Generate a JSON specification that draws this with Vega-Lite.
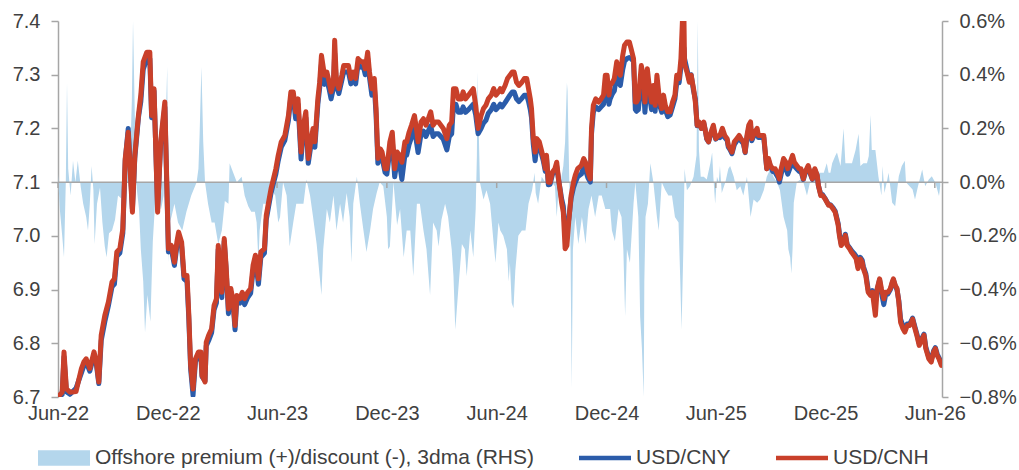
{
"$schema": "https://vega.github.io/schema/vega-lite/v6.json",
"width": 884, "height": 376,
"autosize": {"type": "none"},
"padding": {"left": 58, "top": 21, "right": 77, "bottom": 73},
"background": "white",
"config": {"view": {"stroke": null}, "font": "Liberation Sans",
  "axis": {"labelFont": "Liberation Sans", "labelFontSize": 20, "labelColor": "#404040", "grid": false, "title": null},
  "axisX": {"domain": false, "ticks": false, "labelPadding": 6, "labelFlush": false, "labelOverlap": false,
    "labelExpr": "utcFormat(datum.value, '%b-%y')"}},
"datasets": {
"fx": [
{"d":"2022-06-01","cnh":6.700,"cny":6.697},{"d":"2022-06-08","cnh":6.709,"cny":6.705},{"d":"2022-06-11","cnh":6.784,"cny":6.775},{"d":"2022-06-15","cnh":6.715,"cny":6.710},{"d":"2022-06-21","cnh":6.709,"cny":6.705},
{"d":"2022-07-01","cnh":6.710,"cny":6.716},{"d":"2022-07-10","cnh":6.753,"cny":6.745},{"d":"2022-07-14","cnh":6.765,"cny":6.758},{"d":"2022-07-18","cnh":6.771,"cny":6.765},{"d":"2022-07-24","cnh":6.753,"cny":6.748},{"d":"2022-07-31","cnh":6.784,"cny":6.778},
{"d":"2022-08-04","cnh":6.765,"cny":6.760},{"d":"2022-08-08","cnh":6.728,"cny":6.725},{"d":"2022-08-12","cnh":6.815,"cny":6.805},{"d":"2022-08-18","cnh":6.852,"cny":6.840},{"d":"2022-08-24","cnh":6.877,"cny":6.870},{"d":"2022-08-30","cnh":6.914,"cny":6.905},
{"d":"2022-09-03","cnh":6.920,"cny":6.910},{"d":"2022-09-07","cnh":6.970,"cny":6.962},{"d":"2022-09-12","cnh":6.976,"cny":6.968},{"d":"2022-09-17","cnh":7.013,"cny":7.005},{"d":"2022-09-21","cnh":7.144,"cny":7.140},{"d":"2022-09-26","cnh":7.193,"cny":7.200},
{"d":"2022-10-03","cnh":7.044,"cny":7.050},{"d":"2022-10-07","cnh":7.150,"cny":7.145},{"d":"2022-10-13","cnh":7.224,"cny":7.220},{"d":"2022-10-17","cnh":7.262,"cny":7.250},{"d":"2022-10-21","cnh":7.324,"cny":7.310},{"d":"2022-10-27","cnh":7.342,"cny":7.330},
{"d":"2022-11-01","cnh":7.342,"cny":7.330},{"d":"2022-11-04","cnh":7.224,"cny":7.220},{"d":"2022-11-08","cnh":7.274,"cny":7.270},{"d":"2022-11-14","cnh":7.044,"cny":7.050},{"d":"2022-11-19","cnh":7.175,"cny":7.170},{"d":"2022-11-26","cnh":7.249,"cny":7.240},
{"d":"2022-12-02","cnh":6.976,"cny":6.970},{"d":"2022-12-07","cnh":6.982,"cny":6.975},{"d":"2022-12-12","cnh":6.951,"cny":6.945},{"d":"2022-12-16","cnh":6.988,"cny":6.980},{"d":"2022-12-19","cnh":7.007,"cny":7.000},{"d":"2022-12-24","cnh":6.988,"cny":6.980},{"d":"2022-12-28","cnh":6.926,"cny":6.920},
{"d":"2023-01-02","cnh":6.926,"cny":6.915},{"d":"2023-01-05","cnh":6.852,"cny":6.845},{"d":"2023-01-08","cnh":6.759,"cny":6.752},{"d":"2023-01-12","cnh":6.715,"cny":6.703},{"d":"2023-01-16","cnh":6.771,"cny":6.765},{"d":"2023-01-21","cnh":6.784,"cny":6.778},{"d":"2023-01-25","cnh":6.784,"cny":6.778},{"d":"2023-01-27","cnh":6.740,"cny":6.738},
{"d":"2023-02-01","cnh":6.728,"cny":6.730},{"d":"2023-02-03","cnh":6.802,"cny":6.795},{"d":"2023-02-07","cnh":6.815,"cny":6.805},{"d":"2023-02-12","cnh":6.827,"cny":6.820},{"d":"2023-02-16","cnh":6.870,"cny":6.862},{"d":"2023-02-20","cnh":6.883,"cny":6.875},{"d":"2023-02-23","cnh":6.982,"cny":6.975},{"d":"2023-02-26","cnh":6.939,"cny":6.930},
{"d":"2023-03-01","cnh":6.895,"cny":6.885},{"d":"2023-03-05","cnh":6.995,"cny":6.990},{"d":"2023-03-08","cnh":6.945,"cny":6.940},{"d":"2023-03-12","cnh":6.864,"cny":6.855},{"d":"2023-03-16","cnh":6.902,"cny":6.895},{"d":"2023-03-20","cnh":6.877,"cny":6.870},{"d":"2023-03-23","cnh":6.833,"cny":6.825},{"d":"2023-03-26","cnh":6.889,"cny":6.880},{"d":"2023-03-31","cnh":6.883,"cny":6.875},
{"d":"2023-04-04","cnh":6.895,"cny":6.885},{"d":"2023-04-08","cnh":6.883,"cny":6.872},{"d":"2023-04-13","cnh":6.895,"cny":6.885},{"d":"2023-04-18","cnh":6.902,"cny":6.893},{"d":"2023-04-22","cnh":6.945,"cny":6.935},{"d":"2023-04-26","cnh":6.964,"cny":6.955},
{"d":"2023-05-01","cnh":6.920,"cny":6.910},{"d":"2023-05-05","cnh":6.970,"cny":6.960},{"d":"2023-05-11","cnh":6.976,"cny":6.968},{"d":"2023-05-14","cnh":7.038,"cny":7.030},{"d":"2023-05-18","cnh":7.063,"cny":7.055},{"d":"2023-05-22","cnh":7.088,"cny":7.080},{"d":"2023-05-26","cnh":7.106,"cny":7.098},{"d":"2023-05-30","cnh":7.125,"cny":7.115},
{"d":"2023-06-03","cnh":7.150,"cny":7.140},{"d":"2023-06-08","cnh":7.175,"cny":7.165},{"d":"2023-06-14","cnh":7.187,"cny":7.178},{"d":"2023-06-20","cnh":7.224,"cny":7.215},{"d":"2023-06-24","cnh":7.268,"cny":7.260},{"d":"2023-06-28","cnh":7.268,"cny":7.258},
{"d":"2023-07-02","cnh":7.231,"cny":7.218},{"d":"2023-07-06","cnh":7.255,"cny":7.245},{"d":"2023-07-11","cnh":7.156,"cny":7.143},{"d":"2023-07-15","cnh":7.206,"cny":7.195},{"d":"2023-07-19","cnh":7.231,"cny":7.220},{"d":"2023-07-23","cnh":7.144,"cny":7.135},{"d":"2023-07-27","cnh":7.175,"cny":7.165},{"d":"2023-07-31","cnh":7.200,"cny":7.190},
{"d":"2023-08-03","cnh":7.175,"cny":7.165},{"d":"2023-08-08","cnh":7.255,"cny":7.245},{"d":"2023-08-11","cnh":7.286,"cny":7.275},{"d":"2023-08-14","cnh":7.336,"cny":7.320},{"d":"2023-08-19","cnh":7.299,"cny":7.282},{"d":"2023-08-23","cnh":7.305,"cny":7.290},{"d":"2023-08-27","cnh":7.286,"cny":7.272},{"d":"2023-08-30","cnh":7.268,"cny":7.255},
{"d":"2023-09-03","cnh":7.286,"cny":7.275},{"d":"2023-09-05","cnh":7.364,"cny":7.340},{"d":"2023-09-08","cnh":7.286,"cny":7.280},{"d":"2023-09-12","cnh":7.274,"cny":7.265},{"d":"2023-09-17","cnh":7.299,"cny":7.290},{"d":"2023-09-20","cnh":7.317,"cny":7.305},{"d":"2023-09-24","cnh":7.317,"cny":7.305},{"d":"2023-09-28","cnh":7.317,"cny":7.305},
{"d":"2023-10-02","cnh":7.293,"cny":7.283},{"d":"2023-10-06","cnh":7.305,"cny":7.295},{"d":"2023-10-10","cnh":7.293,"cny":7.283},{"d":"2023-10-14","cnh":7.330,"cny":7.320},{"d":"2023-10-19","cnh":7.324,"cny":7.314},{"d":"2023-10-23","cnh":7.324,"cny":7.314},{"d":"2023-10-26","cnh":7.311,"cny":7.300},{"d":"2023-10-30","cnh":7.342,"cny":7.330},
{"d":"2023-11-02","cnh":7.305,"cny":7.295},{"d":"2023-11-06","cnh":7.274,"cny":7.262},{"d":"2023-11-10","cnh":7.293,"cny":7.280},{"d":"2023-11-13","cnh":7.237,"cny":7.225},{"d":"2023-11-16","cnh":7.144,"cny":7.135},{"d":"2023-11-20","cnh":7.162,"cny":7.152},{"d":"2023-11-23","cnh":7.156,"cny":7.145},{"d":"2023-11-28","cnh":7.125,"cny":7.118},
{"d":"2023-12-01","cnh":7.125,"cny":7.115},{"d":"2023-12-06","cnh":7.175,"cny":7.160},{"d":"2023-12-10","cnh":7.193,"cny":7.178},{"d":"2023-12-14","cnh":7.125,"cny":7.110},{"d":"2023-12-18","cnh":7.156,"cny":7.140},{"d":"2023-12-22","cnh":7.150,"cny":7.135},{"d":"2023-12-26","cnh":7.137,"cny":7.105},{"d":"2023-12-31","cnh":7.175,"cny":7.150},
{"d":"2024-01-03","cnh":7.175,"cny":7.150},{"d":"2024-01-07","cnh":7.193,"cny":7.170},{"d":"2024-01-11","cnh":7.206,"cny":7.183},{"d":"2024-01-16","cnh":7.224,"cny":7.200},{"d":"2024-01-20","cnh":7.193,"cny":7.170},{"d":"2024-01-22","cnh":7.175,"cny":7.155},{"d":"2024-01-27","cnh":7.212,"cny":7.190},{"d":"2024-01-31","cnh":7.218,"cny":7.195},
{"d":"2024-02-04","cnh":7.206,"cny":7.185},{"d":"2024-02-08","cnh":7.218,"cny":7.195},{"d":"2024-02-12","cnh":7.231,"cny":7.205},{"d":"2024-02-16","cnh":7.206,"cny":7.185},{"d":"2024-02-20","cnh":7.212,"cny":7.190},{"d":"2024-02-25","cnh":7.212,"cny":7.190},{"d":"2024-02-29","cnh":7.206,"cny":7.185},
{"d":"2024-03-04","cnh":7.200,"cny":7.180},{"d":"2024-03-10","cnh":7.181,"cny":7.160},{"d":"2024-03-14","cnh":7.206,"cny":7.185},{"d":"2024-03-18","cnh":7.212,"cny":7.190},{"d":"2024-03-21","cnh":7.274,"cny":7.245},{"d":"2024-03-25","cnh":7.274,"cny":7.245},{"d":"2024-03-29","cnh":7.255,"cny":7.230},
{"d":"2024-04-03","cnh":7.255,"cny":7.230},{"d":"2024-04-06","cnh":7.268,"cny":7.240},{"d":"2024-04-10","cnh":7.255,"cny":7.230},{"d":"2024-04-15","cnh":7.262,"cny":7.235},{"d":"2024-04-19","cnh":7.268,"cny":7.240},{"d":"2024-04-23","cnh":7.274,"cny":7.245},{"d":"2024-04-27","cnh":7.243,"cny":7.225},
{"d":"2024-05-01","cnh":7.200,"cny":7.190},{"d":"2024-05-06","cnh":7.224,"cny":7.200},{"d":"2024-05-10","cnh":7.237,"cny":7.210},{"d":"2024-05-14","cnh":7.243,"cny":7.215},{"d":"2024-05-18","cnh":7.255,"cny":7.228},{"d":"2024-05-23","cnh":7.262,"cny":7.235},{"d":"2024-05-27","cnh":7.274,"cny":7.245},{"d":"2024-05-31","cnh":7.262,"cny":7.235},
{"d":"2024-06-04","cnh":7.268,"cny":7.240},{"d":"2024-06-07","cnh":7.274,"cny":7.245},{"d":"2024-06-10","cnh":7.268,"cny":7.240},{"d":"2024-06-15","cnh":7.280,"cny":7.248},{"d":"2024-06-19","cnh":7.293,"cny":7.255},{"d":"2024-06-23","cnh":7.299,"cny":7.262},{"d":"2024-06-27","cnh":7.305,"cny":7.268},{"d":"2024-06-30","cnh":7.305,"cny":7.268},
{"d":"2024-07-04","cnh":7.286,"cny":7.255},{"d":"2024-07-08","cnh":7.280,"cny":7.250},{"d":"2024-07-13","cnh":7.286,"cny":7.256},{"d":"2024-07-17","cnh":7.293,"cny":7.262},{"d":"2024-07-21","cnh":7.293,"cny":7.262},{"d":"2024-07-24","cnh":7.274,"cny":7.250},{"d":"2024-07-27","cnh":7.255,"cny":7.235},{"d":"2024-07-29","cnh":7.237,"cny":7.220},
{"d":"2024-08-01","cnh":7.181,"cny":7.170},{"d":"2024-08-04","cnh":7.156,"cny":7.140},{"d":"2024-08-07","cnh":7.181,"cny":7.168},{"d":"2024-08-11","cnh":7.175,"cny":7.165},{"d":"2024-08-14","cnh":7.162,"cny":7.155},{"d":"2024-08-18","cnh":7.144,"cny":7.138},{"d":"2024-08-21","cnh":7.125,"cny":7.120},{"d":"2024-08-23","cnh":7.150,"cny":7.145},{"d":"2024-08-26","cnh":7.100,"cny":7.095},{"d":"2024-08-29","cnh":7.100,"cny":7.096},
{"d":"2024-09-02","cnh":7.119,"cny":7.115},{"d":"2024-09-06","cnh":7.125,"cny":7.120},{"d":"2024-09-09","cnh":7.137,"cny":7.130},{"d":"2024-09-12","cnh":7.106,"cny":7.105},{"d":"2024-09-15","cnh":7.082,"cny":7.085},{"d":"2024-09-17","cnh":7.063,"cny":7.070},{"d":"2024-09-20","cnh":7.044,"cny":7.055},{"d":"2024-09-23","cnh":6.976,"cny":7.010},{"d":"2024-09-26","cnh":6.982,"cny":7.015},{"d":"2024-09-29","cnh":7.026,"cny":7.030},
{"d":"2024-10-03","cnh":7.075,"cny":7.070},{"d":"2024-10-07","cnh":7.100,"cny":7.090},{"d":"2024-10-10","cnh":7.113,"cny":7.100},{"d":"2024-10-14","cnh":7.125,"cny":7.110},{"d":"2024-10-20","cnh":7.131,"cny":7.115},{"d":"2024-10-24","cnh":7.144,"cny":7.128},{"d":"2024-10-27","cnh":7.137,"cny":7.122},{"d":"2024-10-31","cnh":7.119,"cny":7.108},
{"d":"2024-11-04","cnh":7.106,"cny":7.100},{"d":"2024-11-06","cnh":7.200,"cny":7.190},{"d":"2024-11-09","cnh":7.243,"cny":7.230},{"d":"2024-11-13","cnh":7.255,"cny":7.240},{"d":"2024-11-18","cnh":7.249,"cny":7.235},{"d":"2024-11-22","cnh":7.255,"cny":7.240},{"d":"2024-11-26","cnh":7.262,"cny":7.245},{"d":"2024-11-29","cnh":7.299,"cny":7.275},
{"d":"2024-12-02","cnh":7.299,"cny":7.275},{"d":"2024-12-05","cnh":7.262,"cny":7.245},{"d":"2024-12-07","cnh":7.280,"cny":7.255},{"d":"2024-12-11","cnh":7.286,"cny":7.265},{"d":"2024-12-14","cnh":7.293,"cny":7.270},{"d":"2024-12-18","cnh":7.324,"cny":7.300},{"d":"2024-12-21","cnh":7.305,"cny":7.285},{"d":"2024-12-24","cnh":7.299,"cny":7.280},{"d":"2024-12-28","cnh":7.336,"cny":7.310},{"d":"2024-12-31","cnh":7.355,"cny":7.325},
{"d":"2025-01-04","cnh":7.361,"cny":7.330},{"d":"2025-01-08","cnh":7.361,"cny":7.332},{"d":"2025-01-11","cnh":7.348,"cny":7.330},{"d":"2025-01-15","cnh":7.330,"cny":7.325},{"d":"2025-01-18","cnh":7.249,"cny":7.235},{"d":"2025-01-20","cnh":7.249,"cny":7.232},{"d":"2025-01-23","cnh":7.255,"cny":7.235},{"d":"2025-01-28","cnh":7.317,"cny":7.290},
{"d":"2025-02-01","cnh":7.293,"cny":7.270},{"d":"2025-02-03","cnh":7.249,"cny":7.230},{"d":"2025-02-07","cnh":7.311,"cny":7.290},{"d":"2025-02-10","cnh":7.280,"cny":7.265},{"d":"2025-02-14","cnh":7.249,"cny":7.235},{"d":"2025-02-17","cnh":7.280,"cny":7.265},{"d":"2025-02-20","cnh":7.243,"cny":7.232},{"d":"2025-02-23","cnh":7.299,"cny":7.285},{"d":"2025-02-27","cnh":7.255,"cny":7.245},
{"d":"2025-03-03","cnh":7.237,"cny":7.230},{"d":"2025-03-06","cnh":7.262,"cny":7.255},{"d":"2025-03-09","cnh":7.243,"cny":7.235},{"d":"2025-03-13","cnh":7.231,"cny":7.222},{"d":"2025-03-17","cnh":7.231,"cny":7.225},{"d":"2025-03-21","cnh":7.249,"cny":7.240},{"d":"2025-03-25","cnh":7.262,"cny":7.255},{"d":"2025-03-28","cnh":7.299,"cny":7.285},
{"d":"2025-04-01","cnh":7.293,"cny":7.285},{"d":"2025-04-04","cnh":7.330,"cny":7.315},{"d":"2025-04-07","cnh":7.415,"cny":7.350},{"d":"2025-04-09","cnh":7.405,"cny":7.350},{"d":"2025-04-10","cnh":7.320,"cny":7.330},{"d":"2025-04-14","cnh":7.305,"cny":7.310},{"d":"2025-04-18","cnh":7.286,"cny":7.290},{"d":"2025-04-21","cnh":7.299,"cny":7.300},{"d":"2025-04-25","cnh":7.274,"cny":7.270},{"d":"2025-04-28","cnh":7.249,"cny":7.255},
{"d":"2025-05-01","cnh":7.206,"cny":7.205},{"d":"2025-05-04","cnh":7.212,"cny":7.210},{"d":"2025-05-08","cnh":7.200,"cny":7.200},{"d":"2025-05-12","cnh":7.212,"cny":7.210},{"d":"2025-05-14","cnh":7.200,"cny":7.200},{"d":"2025-05-17","cnh":7.181,"cny":7.180},{"d":"2025-05-20","cnh":7.175,"cny":7.175},{"d":"2025-05-24","cnh":7.193,"cny":7.190},{"d":"2025-05-28","cnh":7.206,"cny":7.200},
{"d":"2025-06-01","cnh":7.181,"cny":7.180},{"d":"2025-06-06","cnh":7.187,"cny":7.185},{"d":"2025-06-08","cnh":7.187,"cny":7.183},{"d":"2025-06-12","cnh":7.200,"cny":7.195},{"d":"2025-06-16","cnh":7.187,"cny":7.183},{"d":"2025-06-20","cnh":7.181,"cny":7.178},{"d":"2025-06-22","cnh":7.168,"cny":7.165},{"d":"2025-06-25","cnh":7.162,"cny":7.160},{"d":"2025-06-28","cnh":7.156,"cny":7.153},
{"d":"2025-07-02","cnh":7.175,"cny":7.170},{"d":"2025-07-06","cnh":7.181,"cny":7.177},{"d":"2025-07-10","cnh":7.187,"cny":7.183},{"d":"2025-07-13","cnh":7.181,"cny":7.177},{"d":"2025-07-17","cnh":7.175,"cny":7.172},{"d":"2025-07-20","cnh":7.156,"cny":7.155},{"d":"2025-07-23","cnh":7.187,"cny":7.183},{"d":"2025-07-26","cnh":7.206,"cny":7.200},{"d":"2025-07-29","cnh":7.212,"cny":7.205},{"d":"2025-07-31","cnh":7.181,"cny":7.177},
{"d":"2025-08-05","cnh":7.193,"cny":7.190},{"d":"2025-08-09","cnh":7.200,"cny":7.195},{"d":"2025-08-11","cnh":7.187,"cny":7.183},{"d":"2025-08-16","cnh":7.187,"cny":7.183},{"d":"2025-08-20","cnh":7.187,"cny":7.183},{"d":"2025-08-22","cnh":7.162,"cny":7.160},{"d":"2025-08-25","cnh":7.125,"cny":7.125},{"d":"2025-08-28","cnh":7.144,"cny":7.140},{"d":"2025-08-31","cnh":7.131,"cny":7.130},
{"d":"2025-09-04","cnh":7.125,"cny":7.120},{"d":"2025-09-08","cnh":7.125,"cny":7.118},{"d":"2025-09-13","cnh":7.113,"cny":7.108},{"d":"2025-09-15","cnh":7.106,"cny":7.100},{"d":"2025-09-18","cnh":7.125,"cny":7.115},{"d":"2025-09-22","cnh":7.144,"cny":7.132},{"d":"2025-09-26","cnh":7.137,"cny":7.125},{"d":"2025-09-29","cnh":7.125,"cny":7.115},
{"d":"2025-10-03","cnh":7.137,"cny":7.127},{"d":"2025-10-07","cnh":7.150,"cny":7.140},{"d":"2025-10-10","cnh":7.137,"cny":7.130},{"d":"2025-10-14","cnh":7.131,"cny":7.125},{"d":"2025-10-18","cnh":7.125,"cny":7.120},{"d":"2025-10-21","cnh":7.125,"cny":7.120},{"d":"2025-10-25","cnh":7.106,"cny":7.105},{"d":"2025-10-28","cnh":7.119,"cny":7.117},
{"d":"2025-11-02","cnh":7.131,"cny":7.128},{"d":"2025-11-05","cnh":7.119,"cny":7.117},{"d":"2025-11-09","cnh":7.106,"cny":7.105},{"d":"2025-11-13","cnh":7.125,"cny":7.123},{"d":"2025-11-17","cnh":7.113,"cny":7.112},{"d":"2025-11-19","cnh":7.094,"cny":7.094},{"d":"2025-11-23","cnh":7.075,"cny":7.077},{"d":"2025-11-26","cnh":7.075,"cny":7.077},{"d":"2025-11-30","cnh":7.069,"cny":7.070},
{"d":"2025-12-06","cnh":7.057,"cny":7.058},{"d":"2025-12-09","cnh":7.057,"cny":7.058},{"d":"2025-12-13","cnh":7.051,"cny":7.053},{"d":"2025-12-17","cnh":7.044,"cny":7.046},{"d":"2025-12-22","cnh":7.020,"cny":7.023},{"d":"2025-12-24","cnh":7.001,"cny":7.005},{"d":"2025-12-27","cnh":6.982,"cny":6.985},{"d":"2025-12-31","cnh":6.988,"cny":6.990},
{"d":"2026-01-03","cnh":7.001,"cny":7.003},{"d":"2026-01-06","cnh":6.982,"cny":6.984},{"d":"2026-01-10","cnh":6.976,"cny":6.978},{"d":"2026-01-13","cnh":6.970,"cny":6.973},{"d":"2026-01-17","cnh":6.964,"cny":6.968},{"d":"2026-01-21","cnh":6.957,"cny":6.962},{"d":"2026-01-24","cnh":6.939,"cny":6.943},{"d":"2026-01-28","cnh":6.957,"cny":6.960},{"d":"2026-01-31","cnh":6.951,"cny":6.955},
{"d":"2026-02-02","cnh":6.939,"cny":6.943},{"d":"2026-02-06","cnh":6.926,"cny":6.930},{"d":"2026-02-10","cnh":6.895,"cny":6.900},{"d":"2026-02-14","cnh":6.889,"cny":6.893},{"d":"2026-02-17","cnh":6.895,"cny":6.898},{"d":"2026-02-22","cnh":6.852,"cny":6.875},{"d":"2026-02-25","cnh":6.902,"cny":6.900},
{"d":"2026-03-01","cnh":6.920,"cny":6.918},{"d":"2026-03-04","cnh":6.902,"cny":6.895},{"d":"2026-03-08","cnh":6.883,"cny":6.872},{"d":"2026-03-11","cnh":6.895,"cny":6.890},{"d":"2026-03-15","cnh":6.895,"cny":6.892},{"d":"2026-03-19","cnh":6.902,"cny":6.900},{"d":"2026-03-22","cnh":6.914,"cny":6.912},{"d":"2026-03-24","cnh":6.920,"cny":6.918},{"d":"2026-03-27","cnh":6.908,"cny":6.907},{"d":"2026-03-30","cnh":6.902,"cny":6.900},
{"d":"2026-04-02","cnh":6.877,"cny":6.880},{"d":"2026-04-05","cnh":6.839,"cny":6.845},{"d":"2026-04-09","cnh":6.827,"cny":6.832},{"d":"2026-04-12","cnh":6.821,"cny":6.826},{"d":"2026-04-16","cnh":6.833,"cny":6.836},{"d":"2026-04-20","cnh":6.833,"cny":6.836},{"d":"2026-04-23","cnh":6.839,"cny":6.842},{"d":"2026-04-25","cnh":6.845,"cny":6.847},{"d":"2026-04-29","cnh":6.827,"cny":6.830},
{"d":"2026-05-02","cnh":6.815,"cny":6.818},{"d":"2026-05-06","cnh":6.796,"cny":6.800},{"d":"2026-05-11","cnh":6.808,"cny":6.810},{"d":"2026-05-14","cnh":6.815,"cny":6.817},{"d":"2026-05-17","cnh":6.790,"cny":6.793},{"d":"2026-05-22","cnh":6.771,"cny":6.774},{"d":"2026-05-26","cnh":6.765,"cny":6.768},{"d":"2026-05-30","cnh":6.784,"cny":6.786},
{"d":"2026-06-02","cnh":6.790,"cny":6.792},{"d":"2026-06-05","cnh":6.777,"cny":6.780},{"d":"2026-06-08","cnh":6.771,"cny":6.773},{"d":"2026-06-12","cnh":6.759,"cny":6.762}
],
"prem": [
{"d":"2022-06-01","p":0.03},{"d":"2022-06-04","p":-0.1},{"d":"2022-06-08","p":-0.2},{"d":"2022-06-11","p":-0.28},{"d":"2022-06-14","p":0.0},{"d":"2022-06-16","p":0.37},{"d":"2022-06-18","p":0.05},{"d":"2022-06-22","p":-0.05},{"d":"2022-06-26","p":0.08},{"d":"2022-06-30","p":0.0},
{"d":"2022-07-04","p":0.08},{"d":"2022-07-09","p":-0.02},{"d":"2022-07-13","p":-0.08},{"d":"2022-07-18","p":-0.13},{"d":"2022-07-21","p":-0.18},{"d":"2022-07-24","p":-0.08},{"d":"2022-07-27","p":0.06},{"d":"2022-07-30","p":-0.03},
{"d":"2022-08-01","p":-0.23},{"d":"2022-08-05","p":-0.08},{"d":"2022-08-10","p":-0.02},{"d":"2022-08-14","p":-0.15},{"d":"2022-08-18","p":-0.24},{"d":"2022-08-21","p":-0.28},{"d":"2022-08-25","p":-0.19},{"d":"2022-08-30","p":-0.18},
{"d":"2022-09-04","p":-0.14},{"d":"2022-09-09","p":-0.05},{"d":"2022-09-14","p":-0.06},{"d":"2022-09-18","p":0.0},{"d":"2022-09-24","p":0.07},{"d":"2022-09-26","p":-0.02},{"d":"2022-09-30","p":0.15},
{"d":"2022-10-02","p":0.3},{"d":"2022-10-04","p":0.6},{"d":"2022-10-07","p":0.25},{"d":"2022-10-10","p":-0.02},{"d":"2022-10-14","p":-0.1},{"d":"2022-10-17","p":-0.25},{"d":"2022-10-21","p":-0.37},{"d":"2022-10-24","p":-0.56},{"d":"2022-10-28","p":-0.42},
{"d":"2022-11-02","p":-0.52},{"d":"2022-11-06","p":-0.22},{"d":"2022-11-10","p":-0.07},{"d":"2022-11-13","p":-0.13},{"d":"2022-11-16","p":0.06},{"d":"2022-11-20","p":-0.1},{"d":"2022-11-24","p":-0.05},{"d":"2022-11-27","p":0.18},{"d":"2022-11-30","p":0.43},
{"d":"2022-12-02","p":-0.3},{"d":"2022-12-04","p":-0.15},{"d":"2022-12-07","p":-0.13},{"d":"2022-12-12","p":-0.08},{"d":"2022-12-18","p":-0.15},{"d":"2022-12-25","p":-0.18},
{"d":"2023-01-01","p":-0.11},{"d":"2023-01-09","p":-0.05},{"d":"2023-01-18","p":0.0},{"d":"2023-01-21","p":0.05},{"d":"2023-01-23","p":0.18},{"d":"2023-01-26","p":0.43},{"d":"2023-01-29","p":0.15},
{"d":"2023-02-01","p":0.0},{"d":"2023-02-06","p":-0.08},{"d":"2023-02-12","p":-0.15},{"d":"2023-02-17","p":-0.15},{"d":"2023-02-23","p":-0.23},
{"d":"2023-03-01","p":-0.18},{"d":"2023-03-06","p":-0.07},{"d":"2023-03-12","p":-0.08},{"d":"2023-03-14","p":0.07},{"d":"2023-03-20","p":0.035},{"d":"2023-03-26","p":0.0},
{"d":"2023-04-03","p":0.02},{"d":"2023-04-08","p":-0.05},{"d":"2023-04-14","p":-0.09},{"d":"2023-04-19","p":-0.11},{"d":"2023-04-25","p":-0.11},{"d":"2023-04-28","p":-0.15},
{"d":"2023-05-01","p":-0.3},{"d":"2023-05-03","p":-0.18},{"d":"2023-05-09","p":-0.08},{"d":"2023-05-15","p":-0.08},{"d":"2023-05-18","p":-0.14},{"d":"2023-05-23","p":-0.03},{"d":"2023-05-29","p":-0.05},
{"d":"2023-06-03","p":-0.15},{"d":"2023-06-06","p":-0.13},{"d":"2023-06-11","p":0.0},{"d":"2023-06-17","p":-0.05},{"d":"2023-06-22","p":-0.24},{"d":"2023-06-28","p":-0.15},
{"d":"2023-07-03","p":-0.08},{"d":"2023-07-09","p":-0.08},{"d":"2023-07-15","p":-0.08},{"d":"2023-07-20","p":0.01},{"d":"2023-07-26","p":-0.05},{"d":"2023-07-31","p":-0.13},
{"d":"2023-08-06","p":-0.23},{"d":"2023-08-11","p":-0.35},{"d":"2023-08-14","p":-0.42},{"d":"2023-08-17","p":-0.25},{"d":"2023-08-23","p":-0.1},{"d":"2023-08-28","p":-0.15},
{"d":"2023-09-03","p":-0.05},{"d":"2023-09-08","p":-0.18},{"d":"2023-09-14","p":-0.08},{"d":"2023-09-19","p":-0.15},{"d":"2023-09-25","p":-0.04},{"d":"2023-09-30","p":-0.13},
{"d":"2023-10-03","p":-0.3},{"d":"2023-10-06","p":-0.08},{"d":"2023-10-12","p":0.02},{"d":"2023-10-17","p":-0.08},{"d":"2023-10-23","p":-0.18},{"d":"2023-10-28","p":-0.26},
{"d":"2023-11-03","p":-0.18},{"d":"2023-11-08","p":-0.1},{"d":"2023-11-14","p":-0.04},{"d":"2023-11-19","p":0.0},{"d":"2023-11-25","p":-0.015},
{"d":"2023-12-01","p":-0.13},{"d":"2023-12-03","p":-0.25},{"d":"2023-12-06","p":-0.24},{"d":"2023-12-12","p":0.0},{"d":"2023-12-18","p":-0.16},{"d":"2023-12-23","p":-0.1},{"d":"2023-12-29","p":-0.28},
{"d":"2024-01-03","p":-0.18},{"d":"2024-01-09","p":-0.18},{"d":"2024-01-14","p":-0.35},{"d":"2024-01-20","p":-0.08},{"d":"2024-01-25","p":-0.08},{"d":"2024-01-31","p":-0.18},
{"d":"2024-02-05","p":-0.25},{"d":"2024-02-11","p":-0.42},{"d":"2024-02-16","p":-0.15},{"d":"2024-02-22","p":-0.18},{"d":"2024-02-25","p":-0.24},
{"d":"2024-03-01","p":-0.14},{"d":"2024-03-07","p":-0.08},{"d":"2024-03-12","p":-0.13},{"d":"2024-03-18","p":-0.25},{"d":"2024-03-21","p":-0.35},{"d":"2024-03-24","p":-0.55},{"d":"2024-03-29","p":-0.4},
{"d":"2024-04-04","p":-0.23},{"d":"2024-04-09","p":-0.25},{"d":"2024-04-12","p":-0.35},{"d":"2024-04-18","p":-0.18},{"d":"2024-04-23","p":-0.28},{"d":"2024-04-27","p":-0.1},{"d":"2024-04-29","p":0.1},{"d":"2024-04-30","p":0.41},
{"d":"2024-05-02","p":0.2},{"d":"2024-05-04","p":0.0},{"d":"2024-05-10","p":-0.065},{"d":"2024-05-15","p":-0.03},{"d":"2024-05-21","p":-0.08},{"d":"2024-05-27","p":-0.23},{"d":"2024-05-30","p":-0.3},
{"d":"2024-06-04","p":-0.15},{"d":"2024-06-07","p":-0.18},{"d":"2024-06-12","p":-0.2},{"d":"2024-06-18","p":-0.25},{"d":"2024-06-21","p":-0.37},{"d":"2024-06-23","p":-0.3},{"d":"2024-06-26","p":-0.45},{"d":"2024-06-29","p":-0.47},
{"d":"2024-07-02","p":-0.33},{"d":"2024-07-07","p":-0.2},{"d":"2024-07-13","p":-0.18},{"d":"2024-07-19","p":-0.18},{"d":"2024-07-24","p":-0.08},{"d":"2024-07-30","p":-0.03},
{"d":"2024-08-01","p":0.0},{"d":"2024-08-03","p":0.035},{"d":"2024-08-05","p":-0.04},{"d":"2024-08-09","p":-0.08},{"d":"2024-08-15","p":0.02},{"d":"2024-08-21","p":0.0},{"d":"2024-08-26","p":0.0},
{"d":"2024-09-01","p":0.0},{"d":"2024-09-06","p":-0.015},{"d":"2024-09-09","p":-0.13},{"d":"2024-09-12","p":-0.03},{"d":"2024-09-17","p":0.02},{"d":"2024-09-20","p":0.06},{"d":"2024-09-23","p":0.15},{"d":"2024-09-26","p":0.37},{"d":"2024-09-27","p":0.34},{"d":"2024-09-30","p":0.0},
{"d":"2024-10-02","p":-0.25},{"d":"2024-10-04","p":-0.77},{"d":"2024-10-06","p":-0.25},{"d":"2024-10-10","p":-0.13},{"d":"2024-10-15","p":-0.23},{"d":"2024-10-21","p":-0.13},{"d":"2024-10-27","p":-0.23},
{"d":"2024-11-01","p":-0.1},{"d":"2024-11-06","p":-0.05},{"d":"2024-11-12","p":-0.13},{"d":"2024-11-18","p":-0.05},{"d":"2024-11-23","p":-0.05},{"d":"2024-11-29","p":-0.1},
{"d":"2024-12-05","p":-0.1},{"d":"2024-12-07","p":-0.1},{"d":"2024-12-10","p":-0.18},{"d":"2024-12-15","p":-0.22},{"d":"2024-12-21","p":-0.1},{"d":"2024-12-26","p":-0.13},{"d":"2024-12-29","p":-0.25},
{"d":"2025-01-01","p":-0.5},{"d":"2025-01-04","p":-0.25},{"d":"2025-01-09","p":-0.3},{"d":"2025-01-15","p":-0.08},{"d":"2025-01-18","p":0.0},{"d":"2025-01-23","p":-0.13},{"d":"2025-01-26","p":-0.5},{"d":"2025-01-29","p":-0.62},
{"d":"2025-02-01","p":-0.8},{"d":"2025-02-02","p":-0.37},{"d":"2025-02-04","p":-0.13},{"d":"2025-02-08","p":-0.08},{"d":"2025-02-12","p":0.07},{"d":"2025-02-17","p":0.0},{"d":"2025-02-23","p":-0.13},{"d":"2025-02-26","p":-0.18},
{"d":"2025-03-03","p":0.0},{"d":"2025-03-09","p":-0.03},{"d":"2025-03-14","p":-0.05},{"d":"2025-03-20","p":-0.05},{"d":"2025-03-25","p":-0.13},{"d":"2025-03-31","p":-0.15},
{"d":"2025-04-03","p":-0.375},{"d":"2025-04-05","p":-0.55},{"d":"2025-04-08","p":-0.25},{"d":"2025-04-10","p":0.05},{"d":"2025-04-14","p":-0.03},{"d":"2025-04-19","p":-0.015},{"d":"2025-04-25","p":0.02},{"d":"2025-04-30","p":0.1},
{"d":"2025-05-02","p":0.6},{"d":"2025-05-04","p":0.12},{"d":"2025-05-07","p":0.02},{"d":"2025-05-12","p":0.02},{"d":"2025-05-17","p":0.01},{"d":"2025-05-23","p":0.07},{"d":"2025-05-26","p":0.11},{"d":"2025-05-28","p":0.02},{"d":"2025-05-31","p":-0.08},
{"d":"2025-06-03","p":0.02},{"d":"2025-06-06","p":0.0},{"d":"2025-06-08","p":0.06},{"d":"2025-06-11","p":-0.04},{"d":"2025-06-17","p":0.0},{"d":"2025-06-22","p":0.05},{"d":"2025-06-25","p":0.06},
{"d":"2025-07-01","p":0.02},{"d":"2025-07-06","p":-0.03},{"d":"2025-07-12","p":-0.015},{"d":"2025-07-17","p":-0.05},{"d":"2025-07-23","p":0.02},{"d":"2025-07-29","p":-0.13},
{"d":"2025-08-03","p":-0.065},{"d":"2025-08-09","p":-0.077},{"d":"2025-08-14","p":-0.065},{"d":"2025-08-20","p":-0.03},{"d":"2025-08-25","p":0.02},{"d":"2025-08-31","p":0.05},
{"d":"2025-09-05","p":0.02},{"d":"2025-09-11","p":0.0},{"d":"2025-09-16","p":-0.03},{"d":"2025-09-22","p":-0.13},{"d":"2025-09-28","p":-0.18},{"d":"2025-09-30","p":-0.25},
{"d":"2025-10-03","p":-0.28},{"d":"2025-10-05","p":-0.34},{"d":"2025-10-07","p":-0.25},{"d":"2025-10-09","p":-0.077},{"d":"2025-10-14","p":0.0},{"d":"2025-10-20","p":0.01},{"d":"2025-10-25","p":0.0},{"d":"2025-10-31","p":-0.05},
{"d":"2025-11-05","p":0.0},{"d":"2025-11-11","p":0.0},{"d":"2025-11-17","p":0.035},{"d":"2025-11-22","p":0.035},{"d":"2025-11-28","p":0.035},
{"d":"2025-12-03","p":0.07},{"d":"2025-12-06","p":0.035},{"d":"2025-12-09","p":0.035},{"d":"2025-12-12","p":0.07},{"d":"2025-12-17","p":0.097},{"d":"2025-12-20","p":0.11},{"d":"2025-12-26","p":0.06},{"d":"2025-12-31","p":0.2},
{"d":"2026-01-03","p":0.07},{"d":"2026-01-09","p":0.07},{"d":"2026-01-14","p":0.07},{"d":"2026-01-20","p":0.12},{"d":"2026-01-25","p":0.18},{"d":"2026-01-28","p":0.06},
{"d":"2026-02-02","p":0.07},{"d":"2026-02-08","p":0.07},{"d":"2026-02-11","p":0.097},{"d":"2026-02-14","p":0.25},{"d":"2026-02-16","p":0.12},{"d":"2026-02-22","p":0.12},{"d":"2026-02-27","p":0.022},
{"d":"2026-03-04","p":-0.05},{"d":"2026-03-06","p":0.06},{"d":"2026-03-09","p":-0.04},{"d":"2026-03-13","p":0.0},{"d":"2026-03-16","p":0.035},{"d":"2026-03-22","p":-0.077},{"d":"2026-03-27","p":-0.09},
{"d":"2026-04-02","p":0.022},{"d":"2026-04-07","p":0.06},{"d":"2026-04-12","p":0.08},{"d":"2026-04-14","p":0.0},{"d":"2026-04-20","p":-0.015},{"d":"2026-04-25","p":-0.027},{"d":"2026-04-29","p":-0.065},
{"d":"2026-05-04","p":-0.015},{"d":"2026-05-11","p":0.047},{"d":"2026-05-16","p":-0.015},{"d":"2026-05-22","p":0.01},{"d":"2026-05-27","p":0.022},
{"d":"2026-06-02","p":-0.002},{"d":"2026-06-08","p":-0.052},{"d":"2026-06-10","p":-0.015}
],
"ticks": [{"d":"2022-06-01"},{"d":"2022-12-01"},{"d":"2023-06-01"},{"d":"2023-12-01"},{"d":"2024-06-01"},{"d":"2024-12-01"},{"d":"2025-06-01"},{"d":"2025-12-01"},{"d":"2026-06-01"}]
},
"layer": [
 {"layer": [
  {"data": {"name": "prem"},
   "mark": {"type": "area", "clip": true, "color": "#b4d6ec"},
   "encoding": {
    "x": {"field": "d", "type": "temporal",
      "scale": {"type": "utc", "domain": [{"year": 2022, "month": 6, "date": 1, "utc": true}, {"year": 2026, "month": 6, "date": 13, "utc": true}]},
      "axis": {"values": [{"year":2022,"month":6,"date":1,"utc":true},{"year":2022,"month":12,"date":1,"utc":true},{"year":2023,"month":6,"date":1,"utc":true},{"year":2023,"month":12,"date":1,"utc":true},{"year":2024,"month":6,"date":1,"utc":true},{"year":2024,"month":12,"date":1,"utc":true},{"year":2025,"month":6,"date":1,"utc":true},{"year":2025,"month":12,"date":1,"utc":true},{"year":2026,"month":6,"date":1,"utc":true}],
        "labelExpr": "utcFormat(datum.value, '%b-%y')", "domain": false, "ticks": false, "labelPadding": 6, "labelFlush": false, "labelOverlap": false}},
    "y": {"field": "p", "type": "quantitative", "scale": {"domain": [-0.8, 0.6], "nice": false, "zero": false},
      "axis": {"orient": "right", "values": [-0.8, -0.6, -0.4, -0.2, 0, 0.2, 0.4, 0.6], "labelExpr": "format(datum.value, '.1f') + '%'",
        "domainColor": "#a6a6a6", "domainWidth": 1.5, "tickColor": "#a6a6a6", "tickWidth": 1.5, "tickSize": 6, "labelPadding": 11}},
    "color": {"datum": "Offshore premium (+)/discount (-), 3dma (RHS)",
      "scale": {"domain": ["Offshore premium (+)/discount (-), 3dma (RHS)", "USD/CNY", "USD/CNH"], "range": ["#b4d6ec", "#2b5caa", "#c9402a"]},
      "legend": {"orient": "none", "legendX": -20, "legendY": 411, "direction": "horizontal", "title": null,
        "labelFont": "Liberation Sans", "labelFontSize": 21, "labelColor": "#404040", "labelLimit": 700,
        "symbolSize": 2704, "labelOffset": 5, "columnPadding": 45,
        "encode": {"symbols": {"update": {
          "shape": {"signal": "datum.value === 'USD/CNY' || datum.value === 'USD/CNH' ? 'M-1,-0.09H1V0.09H-1Z' : 'M-1,-0.3H1V0.3H-1Z'"},
          "fill": {"signal": "datum.value === 'USD/CNY' ? '#2b5caa' : datum.value === 'USD/CNH' ? '#c9402a' : '#b4d6ec'"},
          "stroke": {"value": "transparent"},
          "strokeWidth": {"value": 0},
          "opacity": {"value": 1}, "fillOpacity": {"value": 1}}}}}}
   }},
  {"data": {"values": [{}]},
   "mark": {"type": "rule", "color": "#a6a6a6", "strokeWidth": 1.5},
   "encoding": {"y": {"datum": 0, "type": "quantitative"}}},
  {"data": {"name": "ticks"},
   "mark": {"type": "rule", "color": "#a6a6a6", "strokeWidth": 1.5},
   "encoding": {"x": {"field": "d", "type": "temporal"}, "y": {"datum": 0, "type": "quantitative"}, "y2": {"datum": -0.022}}}
 ]},
 {"layer": [
  {"data": {"name": "fx"},
   "mark": {"type": "line", "clip": true, "strokeWidth": 5, "strokeJoin": "round", "strokeCap": "round"},
   "encoding": {
    "x": {"field": "d", "type": "temporal"},
    "y": {"field": "cny", "type": "quantitative", "scale": {"domain": [6.7, 7.4], "nice": false, "zero": false},
      "axis": {"orient": "left", "values": [6.7, 6.8, 6.9, 7.0, 7.1, 7.2, 7.3, 7.4], "format": ".1f",
        "domainColor": "#a6a6a6", "domainWidth": 1.5, "tickColor": "#a6a6a6", "tickWidth": 1.5, "tickSize": 7, "labelPadding": 11}},
    "color": {"datum": "USD/CNY"}}},
  {"data": {"name": "fx"},
   "mark": {"type": "line", "clip": true, "strokeWidth": 5, "strokeJoin": "round", "strokeCap": "round"},
   "encoding": {
    "x": {"field": "d", "type": "temporal"},
    "y": {"field": "cnh", "type": "quantitative"},
    "color": {"datum": "USD/CNH"}}}
 ]}
],
"resolve": {"scale": {"y": "independent"}}
}
